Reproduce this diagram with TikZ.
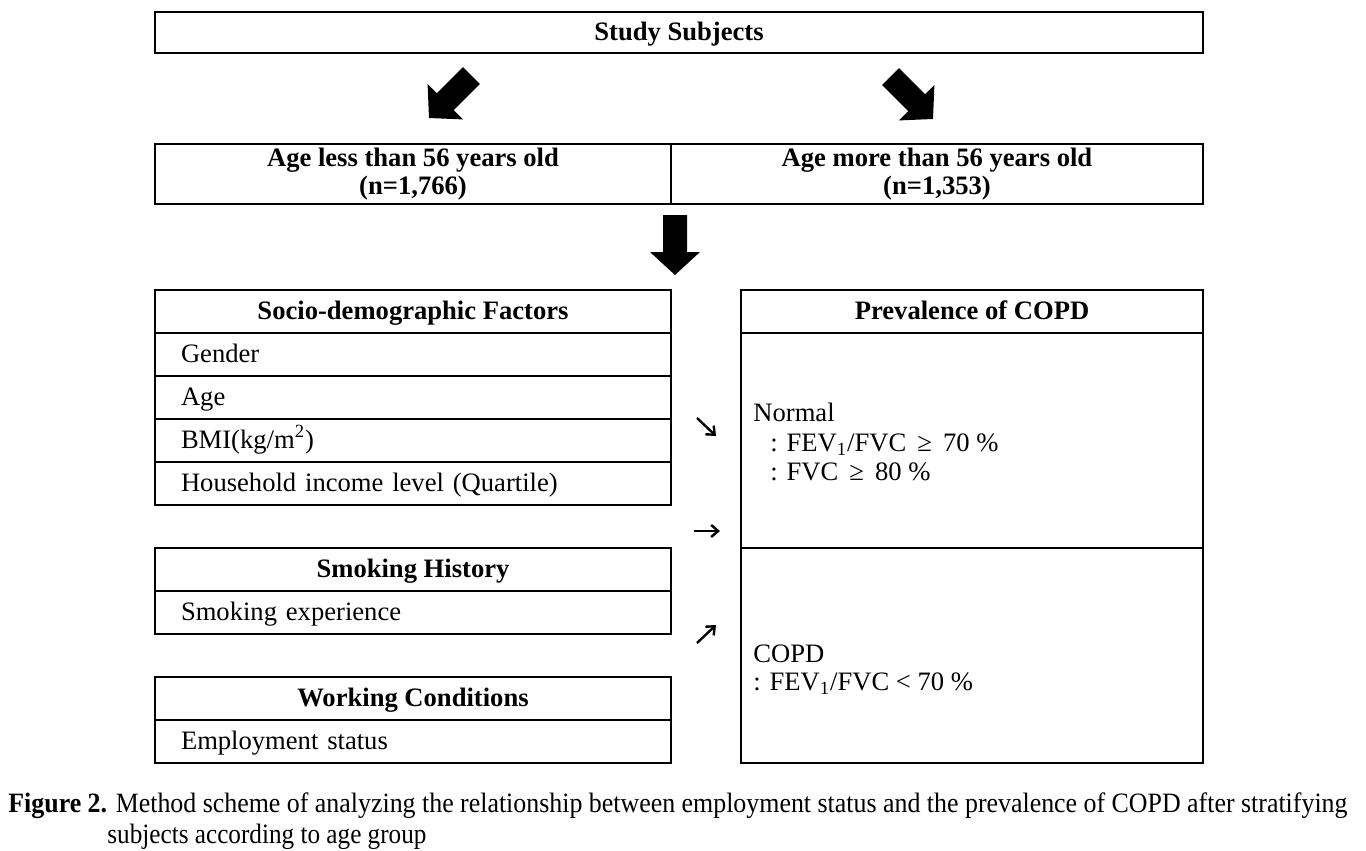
\documentclass[tikz,border=0pt]{standalone}
\usepackage{fontspec}
\setmainfont{Liberation Serif}
\usepackage{graphicx}
\usetikzlibrary{arrows.meta}
\newcommand{\fs}{\fontsize{13.3}{14}\selectfont}
\tikzset{
  tbl/.style={draw, line width=0.8pt},
  onel/.style={text height=0.84em, text depth=0pt},
  rowl/.style={text height=0.78em, text depth=0pt},
  head/.style={tbl, onel, minimum width=258pt, minimum height=21.5pt, inner sep=0pt, font=\fs\bfseries},
  rowcell/.style={tbl, rowl, minimum height=21.5pt, text width=232pt, inner xsep=13pt, inner ysep=0pt, align=left, font=\fs},
  txt/.style={inner sep=0pt, font=\fs},
  smallarrow/.style={line width=1.2pt, -{Straight Barb[length=3.5pt,width=6pt,line width=1.2pt]}},
  blockarrow/.pic={\fill[black] (-12,-60) -- (12,-60) -- (12,-23) -- (25,-23) -- (0,0) -- (-25,-23) -- (-12,-23) -- cycle;}
}
\begin{document}
\begin{tikzpicture}[x=0.5pt,y=-0.5pt]
\useasboundingbox (0,0) rectangle (1366,851);
% top
\node[tbl, onel, minimum width=524pt, minimum height=20.5pt, inner sep=0pt, font=\fs\bfseries] (study) at (679,32.5) {Study Subjects};
\pic[rotate=-45] at (429,118) {blockarrow};
\pic[rotate=45] at (933,119) {blockarrow};
% age groups
\node[tbl, minimum width=258pt, minimum height=30pt, inner sep=0pt, align=center, font=\fontsize{13.3}{14}\selectfont\bfseries] (young) at (413,174) {Age less than 56 years old\\(n=1,766)};
\node[tbl, minimum width=266pt, minimum height=30pt, inner sep=0pt, align=center, font=\fontsize{13.3}{14}\selectfont\bfseries] (old) at (937,174) {Age more than 56 years old\\(n=1,353)};
\pic at (675,275) {blockarrow};
% socio-demographic
\node[head] (socio) at (413,311.5) {Socio-demographic Factors};
\node[rowcell] (gender) at (413,354.5) {Gender};
\node[rowcell] (age) at (413,397.5) {Age};
\node[rowcell] (bmi) at (413,440.5) {BMI(kg/m\textsuperscript{2})};
\node[rowcell] (income) at (413,483.5) {Household income level (Quartile)};
% smoking
\node[head] (smoke) at (413,569.5) {Smoking History};
\node[rowcell] (smokeexp) at (413,612.5) {Smoking experience};
% working
\node[head] (work) at (413,698.5) {Working Conditions};
\node[rowcell] (employ) at (413,741.5) {Employment status};
% prevalence
\node[tbl, onel, minimum width=231pt, minimum height=21.5pt, inner sep=0pt, font=\fs\bfseries] (prev) at (972,311.5) {Prevalence of COPD};
\node[tbl, minimum width=231pt, minimum height=107.5pt, inner sep=0pt] (normal) at (972,440.5) {};
\node[tbl, minimum width=231pt, minimum height=107.5pt, inner sep=0pt] (copd) at (972,655.5) {};
\node[txt, anchor=west, align=left, font=\fontsize{13.3}{14.75}\selectfont] (normaltxt) at (753,442) {Normal\\\hspace{8.5pt}: FEV\textsubscript{1}/FVC \,≥\, 70 \%\\\hspace{8.5pt}: FVC \,≥\, 80 \%};
\node[txt, anchor=west, align=left, font=\fontsize{13.3}{14}\selectfont] (copdtxt) at (753,670) {COPD\\: FEV\textsubscript{1}/FVC < 70 \%};
% small arrows
\coordinate (a1s) at (697,418); \coordinate (a1e) at (716,436);
\coordinate (a2s) at (694,531); \coordinate (a2e) at (720,531);
\coordinate (a3s) at (697,643); \coordinate (a3e) at (716,625);
\draw[smallarrow] (a1s) -- (a1e);
\draw[smallarrow] (a2s) -- (a2e);
\draw[smallarrow] (a3s) -- (a3e);
% caption
\node[txt, anchor=west] (cap1) at (8,806) {\resizebox{669.5pt}{\height}{\fontsize{14}{15}\selectfont\textbf{Figure 2.} Method scheme of analyzing the relationship between employment status and the prevalence of COPD after stratifying}};
\node[txt, anchor=west] (cap2) at (107,837) {\scalebox{0.9}[1]{\fontsize{14}{15}\selectfont subjects according to age group}};
\end{tikzpicture}
\end{document}
